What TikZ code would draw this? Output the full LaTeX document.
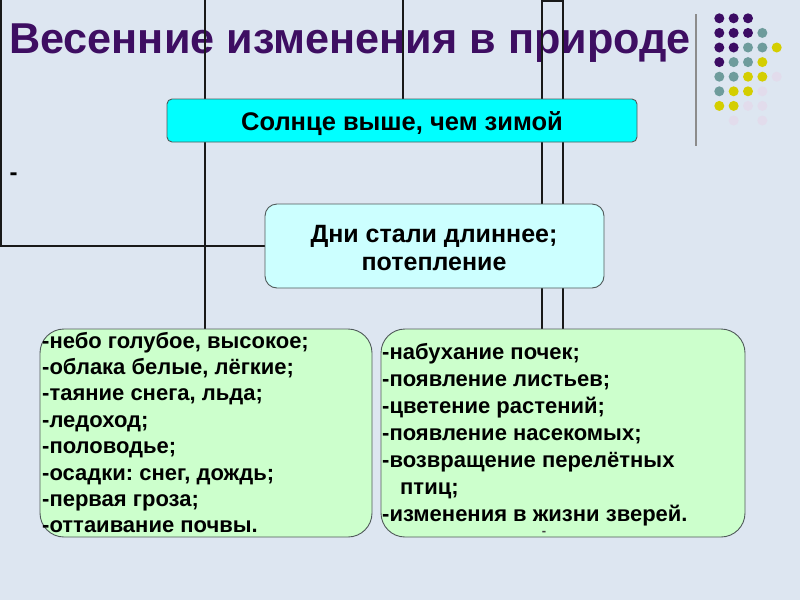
\documentclass[tikz,border=0pt]{standalone}
\usepackage{fontspec}
\setmainfont{Liberation Sans}
\frenchspacing
\definecolor{bgc}{RGB}{221,230,241}
\definecolor{ttl}{RGB}{62,14,98}
\definecolor{dp}{RGB}{60,12,100}
\definecolor{dt}{RGB}{110,156,156}
\definecolor{dy}{RGB}{212,206,0}
\definecolor{dl}{RGB}{226,220,236}
\definecolor{sunc}{RGB}{0,255,255}
\definecolor{dayc}{RGB}{204,255,255}
\definecolor{grn}{RGB}{204,255,204}
\definecolor{bord}{RGB}{80,90,90}
\tikzset{
  gridline/.style={line width=1.7pt, draw=black!90},
  boxbase/.style={draw=bord, line width=0.9pt, inner sep=0pt},
  listtext/.style={anchor=base west, inner sep=0pt, font=\fontsize{22}{24}\selectfont\bfseries},
  dot/.style={circle, inner sep=0pt, minimum size=10pt},
}
\begin{document}
\begin{tikzpicture}[x=1pt,y=-1pt]
\useasboundingbox (0,0) rectangle (800,600);
\fill[bgc] (0,0) rectangle (800,600);

% title
\node[anchor=base west, inner sep=0pt, text=ttl, font=\fontsize{43.2}{44}\selectfont\bfseries] (title) at (9,53) {Весенние изменения в природе};

% grid line anchors
\coordinate (c0) at (1,0);
\coordinate (c1) at (1,246);
\coordinate (t1) at (205,0);
\coordinate (t2) at (403,0);
\coordinate (t3) at (542,0);
\coordinate (t4) at (563,0);
\coordinate (t3b) at (542,1);
\coordinate (t4b) at (563,1);

% boxes (positions)
\path
  node[minimum width=470pt, minimum height=43pt, inner sep=0pt] (sunp) at (402,120.5) {}
  node[minimum width=339pt, minimum height=84pt, inner sep=0pt] (daysp) at (434.5,246) {}
  node[minimum width=332pt, minimum height=208pt, inner sep=0pt] (leftp) at (206,433) {}
  node[minimum width=364pt, minimum height=208pt, inner sep=0pt] (rightp) at (563,433) {};

% grid lines
\draw[gridline] (c0) -- (c1) -- (c1 -| daysp.west);
\draw[gridline] (t1) -- (t1 |- leftp.north);
\draw[gridline] (t2) -- (t2 |- sunp.north);
\draw[gridline] (t3) -- (t3 |- rightp.north);
\draw[gridline] (t4) -- (t4 |- rightp.north);
\draw[gridline] (t3b) -- (t4b);

% boxes
\node[boxbase, fill=sunc, rounded corners=5pt, minimum width=470pt, minimum height=43pt] (sun) at (sunp) {};
\node[boxbase, fill=dayc, rounded corners=12pt, minimum width=339pt, minimum height=84pt] (days) at (daysp) {};
\node[boxbase, fill=grn, rounded corners=24pt, minimum width=332pt, minimum height=208pt] (leftb) at (leftp) {};
\node[boxbase, fill=grn, rounded corners=24pt, minimum width=364pt, minimum height=208pt] (rightb) at (rightp) {};

% box texts
\node[anchor=base, inner sep=0pt, font=\fontsize{25.5}{28}\selectfont\bfseries] (suntext) at (402,130) {Солнце выше, чем зимой};
\node[anchor=base, inner sep=0pt, font=\fontsize{25}{28}\selectfont\bfseries] (daytext1) at (434,242) {Дни стали длиннее;};
\node[anchor=base, inner sep=0pt, font=\fontsize{25}{28}\selectfont\bfseries] (daytext2) at (434,270) {потепление};

\foreach \t [count=\i] in {{-небо голубое, высокое;},{-облака белые, лёгкие;},{-таяние снега, льда;},{-ледоход;},{-половодье;},{-осадки: снег, дождь;},{-первая гроза;},{-оттаивание почвы.}}
  \node[listtext] (L\i) at (42,{348+26.4*(\i-1)}) {\t};

\foreach \t/\x [count=\i] in {{-набухание почек;}/382,{-появление листьев;}/382,{-цветение растений;}/382,{-появление насекомых;}/382,{-возвращение перелётных}/382,{птиц;}/400,{-изменения в жизни зверей.}/382}
  \node[listtext] (R\i) at (\x,{359+27*(\i-1)}) {\t};

% stray dashes
\node[inner sep=0pt, font=\fontsize{24}{26}\selectfont\bfseries] (dash1) at (13.5,177) {-};
\node[inner sep=0pt, font=\fontsize{13}{13}\selectfont\bfseries, text=black!75] (dash2) at (544,533) {-};

% decoration: vertical bar and dots
\coordinate (v0) at (696,14);
\coordinate (v1) at (696,146);
\draw[line width=2pt, draw=black!45] (v0) -- (v1);
\foreach \c/\r/\col in {0/0/dp,1/0/dp,2/0/dp,
  0/1/dp,1/1/dp,2/1/dp,3/1/dt,
  0/2/dp,1/2/dp,2/2/dt,3/2/dt,4/2/dy,
  0/3/dp,1/3/dt,2/3/dt,3/3/dy,
  0/4/dt,1/4/dt,2/4/dy,3/4/dy,4/4/dl,
  0/5/dt,1/5/dy,2/5/dy,3/5/dl,
  0/6/dy,1/6/dy,2/6/dl,3/6/dl,
  1/7/dl,3/7/dl}
  \node[dot, fill=\col] (d\c-\r) at ({719.3+14.35*\c},{18.3+14.6*\r}) {};
\end{tikzpicture}
\end{document}
